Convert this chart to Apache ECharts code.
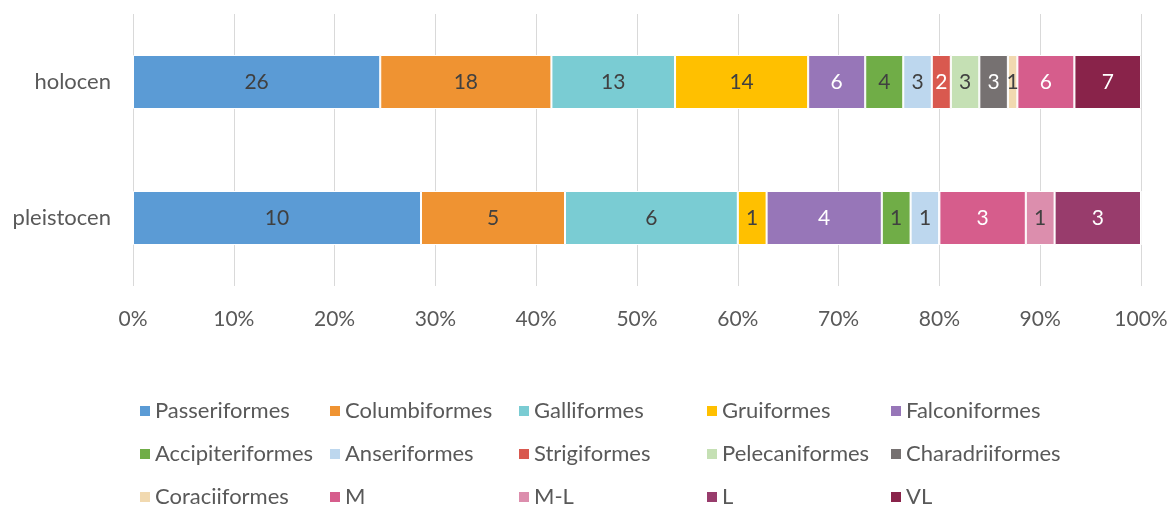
<!DOCTYPE html>
<html>
<head>
<meta charset="utf-8">
<script src="https://cdn.jsdelivr.net/npm/echarts@6/dist/echarts.min.js"></script>
<style>
  html, body { margin: 0; padding: 0; background: #fff; }
  #chart { width: 1173px; height: 508px; }
</style>
</head>
<body>
<div id="chart"></div>
<script>
// periods (top to bottom)
const periods = ["holocen", "pleistocen"];
// species / size groups, in stacking order
const groups = [
  "Passeriformes", "Columbiformes", "Galliformes", "Gruiformes", "Falconiformes",
  "Accipiteriformes", "Anseriformes", "Strigiformes", "Pelecaniformes", "Charadriiformes",
  "Coraciiformes", "M", "M-L", "L", "VL"
];
// counts per group: [holocen, pleistocen]
const holocenCounts =    [26, 18, 13, 14, 6, 4, 3, 2, 3, 3, 1, 6, 0, 0, 7];
const pleistocenCounts = [10, 5, 6, 1, 4, 1, 1, 0, 0, 0, 0, 3, 1, 3, 0];
const tickLabels = ["0%", "10%", "20%", "30%", "40%", "50%", "60%", "70%", "80%", "90%", "100%"];

const colors = [
  "#5B9BD5", "#EF9332", "#7ACCD3", "#FFC000", "#9776B8",
  "#70AD47", "#BDD7EE", "#D9594F", "#C5E0B4", "#767171",
  "#F1D9B0", "#D65D8C", "#DC8EAD", "#983C6C", "#89234A"
];
// segments with white numbers
const whiteText = ["Falconiformes", "Strigiformes", "Charadriiformes", "M", "L", "VL"];

const totals = [
  holocenCounts.reduce((a, b) => a + b, 0),
  pleistocenCounts.reduce((a, b) => a + b, 0)
];

const chart = echarts.init(document.getElementById("chart"));
const font = "Lato, 'Open Sans', sans-serif";

const series = groups.map((name, i) => {
  const counts = [holocenCounts[i], pleistocenCounts[i]];
  return {
    name: name,
    type: "bar",
    stack: "all",
    barWidth: 54,
    itemStyle: { color: colors[i], borderColor: "#fff", borderWidth: 1 },
    label: {
      show: true,
      position: "inside",
      fontFamily: font,
      fontSize: 21,
      color: whiteText.includes(name) ? "#ffffff" : "#404040",
      formatter: (p) => (counts[p.dataIndex] ? String(counts[p.dataIndex]) : "")
    },
    data: counts.map((c, j) => (c / totals[j]) * 100)
  };
});

// legend: 5 columns x 3 rows, one legend per item so columns line up
const colX = [138, 328, 517, 705, 889];
const rowY = [400, 443, 486];
const legends = groups.map((name, i) => ({
  data: [name],
  left: colX[i % 5],
  top: rowY[Math.floor(i / 5)],
  icon: "rect",
  itemWidth: 12,
  itemHeight: 12,
  itemGap: 0,
  padding: 0,
  textStyle: { fontFamily: font, fontSize: 22, color: "#595959", padding: [0, 0, 0, -1] },
  selectedMode: false
}));

chart.setOption({
  animation: false,
  color: colors,
  grid: { left: 133, right: 32, top: 14, bottom: 222 },
  legend: legends,
  xAxis: {
    type: "value",
    min: 0,
    max: 100,
    interval: 10,
    axisLine: { show: false },
    axisTick: { show: false },
    splitLine: { lineStyle: { color: "#D9D9D9", width: 1 } },
    axisLabel: {
      margin: 23,
      fontFamily: font,
      fontSize: 21,
      color: "#595959",
      formatter: (v) => tickLabels[Math.round(v / 10)]
    }
  },
  yAxis: {
    type: "category",
    inverse: true,
    data: periods,
    axisLine: { show: false },
    axisTick: { show: false },
    axisLabel: { margin: 22, fontFamily: font, fontSize: 22, color: "#595959" }
  },
  series: series
});
</script>
</body>
</html>
